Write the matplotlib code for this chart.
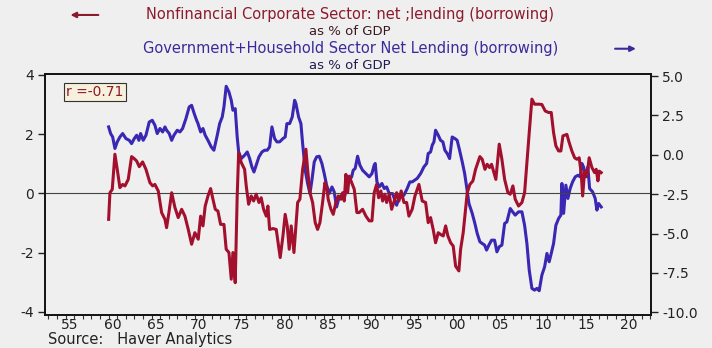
import numpy as np
import matplotlib.pyplot as plt

plt.rcParams['font.family'] = ['DejaVu Sans']
plt.rcParams['axes.unicode_minus'] = False

# Nonfinancial corporate sector net lending, % of GDP (left axis)
corp_years = [1960.0, 1960.15, 1960.42, 1960.73, 1961.0, 1961.31, 1961.63, 1961.9, 1962.28, 1962.67,
              1962.98, 1963.26, 1963.56, 1963.95, 1964.34, 1964.8, 1965.12, 1965.38, 1965.77, 1966.16,
              1966.55, 1966.74, 1967.01, 1967.33, 1967.71, 1968.09, 1968.49, 1968.87, 1969.26, 1969.65,
              1970.03, 1970.42, 1970.7, 1970.97, 1971.23, 1971.55, 1971.86, 1972.13, 1972.4, 1972.71,
              1973.02, 1973.41, 1973.67, 1973.99, 1974.26, 1974.45, 1974.72, 1974.95, 1975.12, 1975.42,
              1975.81, 1976.0, 1976.28, 1976.58, 1976.86, 1977.16, 1977.48, 1977.74, 1978.02, 1978.33,
              1978.52, 1978.72, 1979.1, 1979.49, 1979.95, 1980.27, 1980.53, 1980.77, 1981.0, 1981.23,
              1981.55, 1981.98, 1982.24, 1982.56, 1982.94, 1983.14, 1983.41, 1983.72, 1984.02, 1984.3,
              1984.57, 1984.88, 1985.15, 1985.38, 1985.53, 1985.85, 1986.12, 1986.43, 1986.7, 1987.01,
              1987.21, 1987.4, 1987.59, 1987.79, 1987.98, 1988.26, 1988.56, 1988.87, 1989.14, 1989.53,
              1989.92, 1990.3, 1990.62, 1990.88, 1991.16, 1991.4, 1991.66, 1991.86, 1992.13, 1992.33,
              1992.63, 1992.91, 1993.21, 1993.49, 1993.76, 1994.02, 1994.34, 1994.65, 1994.92, 1995.3,
              1995.62, 1996.08, 1996.47, 1996.86, 1997.16, 1997.44, 1997.74, 1998.02, 1998.33, 1998.6,
              1998.91, 1999.19, 1999.45, 1999.77, 2000.07, 2000.35, 2000.73, 2000.93, 2001.23, 2001.51,
              2001.7, 2002.01, 2002.36, 2002.67, 2003.17, 2003.44, 2003.76, 2004.02, 2004.3, 2004.53,
              2004.8, 2005.03, 2005.42, 2005.73, 2006.05, 2006.43, 2006.7, 2007.01, 2007.28, 2007.67,
              2008.06, 2008.37, 2008.64, 2008.91, 2009.22, 2009.53, 2010.0, 2010.38, 2010.77, 2011.16,
              2011.47, 2011.74, 2012.01, 2012.33, 2012.59, 2012.83, 2013.29, 2013.56, 2013.87, 2014.19,
              2014.45, 2014.72, 2014.95, 2015.12, 2015.35, 2015.62, 2015.88, 2016.2, 2016.51, 2016.7,
              2016.9, 2017.05, 2017.28]
corp_vals = [-0.88, 0.02, 0.13, 1.32, 0.81, 0.19, 0.30, 0.25, 0.47, 1.24,
             1.17, 1.09, 0.90, 1.06, 0.81, 0.36, 0.25, 0.30, 0.08, -0.65,
             -0.88, -1.16, -0.65, 0.02, -0.48, -0.82, -0.54, -0.77, -1.22, -1.72,
             -1.33, -1.55, -0.77, -1.10, -0.43, -0.09, 0.16, -0.20, -0.54, -0.60,
             -1.05, -1.05, -1.89, -2.00, -2.90, -2.00, -3.02, -0.09, 1.37, 1.04,
             0.81, 0.25, -0.37, -0.09, -0.26, -0.03, -0.31, -0.15, -0.54, -0.77,
             -0.43, -1.22, -1.19, -1.22, -2.17, -1.44, -0.71, -1.10, -1.89, -1.10,
             -2.00, -0.31, -0.20, 0.81, 1.49, 0.81, 0.02, -0.31, -0.99, -1.22,
             -0.99, -0.31, 0.36, 0.19, -0.20, -0.54, -0.71, -0.31, -0.09, -0.20,
             0.02, -0.26, 0.64, 0.02, 0.58, 0.36, 0.14, -0.65, -0.65, -0.54,
             -0.77, -0.93, -0.93, 0.02, 0.30, -0.15, 0.08, -0.26, -0.03, -0.31,
             -0.03, -0.54, -0.26, 0.02, -0.26, 0.08, -0.31, -0.31, -0.77, -0.54,
             -0.09, 0.30, -0.26, -0.31, -0.99, -0.82, -1.22, -1.67, -1.33, -1.39,
             -1.44, -1.10, -1.44, -1.67, -1.78, -2.46, -2.62, -1.89, -1.33, -0.54,
             0.02, 0.30, 0.42, 0.81, 1.24, 1.15, 0.81, 0.98, 0.87, 0.98,
             0.70, 0.47, 1.66, 1.15, 0.47, 0.02, -0.03, 0.25, -0.20, -0.43,
             -0.31, 0.02, 1.04, 2.05, 3.18, 3.01, 3.01, 3.00, 2.78, 2.73,
             2.73, 2.05, 1.60, 1.43, 1.43, 1.94, 1.99, 1.71, 1.43, 1.20,
             1.15, 1.20, 0.70, -0.09, 0.75, 0.58, 1.20, 0.87, 0.70, 0.81,
             0.42, 0.75, 0.70]

# Government + household sector net lending, % of GDP (right axis)
govhh_years = [1960.0, 1960.23, 1960.47, 1960.73, 1961.0, 1961.31, 1961.63, 1962.01, 1962.4, 1962.67,
               1962.98, 1963.26, 1963.52, 1963.72, 1964.02, 1964.34, 1964.72, 1965.07, 1965.38, 1965.65,
               1965.97, 1966.28, 1966.55, 1966.74, 1967.05, 1967.33, 1967.59, 1967.98, 1968.29, 1968.6,
               1968.99, 1969.37, 1969.65, 1969.95, 1970.23, 1970.38, 1970.7, 1970.97, 1971.23, 1971.55,
               1971.93, 1972.24, 1972.63, 1972.91, 1973.21, 1973.41, 1973.67, 1973.99, 1974.26, 1974.45,
               1974.72, 1974.95, 1975.12, 1975.42, 1975.81, 1976.12, 1976.4, 1976.66, 1976.9, 1977.16,
               1977.48, 1977.83, 1978.14, 1978.44, 1978.72, 1978.99, 1979.3, 1979.57, 1979.88, 1980.27,
               1980.53, 1980.73, 1981.05, 1981.35, 1981.63, 1981.78, 1982.09, 1982.36, 1982.56, 1982.86,
               1983.14, 1983.41, 1983.64, 1983.91, 1984.19, 1984.49, 1984.8, 1985.07, 1985.35, 1985.65,
               1985.97, 1986.23, 1986.51, 1986.81, 1987.13, 1987.4, 1987.67, 1987.98, 1988.26, 1988.44,
               1988.67, 1988.95, 1989.22, 1989.53, 1989.92, 1990.3, 1990.62, 1990.88, 1991.0, 1991.2,
               1991.47, 1991.78, 1992.05, 1992.33, 1992.63, 1993.02, 1993.3, 1993.49, 1993.76, 1994.02,
               1994.34, 1994.72, 1995.03, 1995.3, 1995.58, 1995.88, 1996.28, 1996.66, 1996.98, 1997.16,
               1997.44, 1997.63, 1997.83, 1998.02, 1998.33, 1998.6, 1998.87, 1999.1, 1999.37, 1999.65,
               1999.95, 2000.27, 2000.53, 2000.81, 2001.12, 2001.4, 2001.63, 2001.9, 2002.28, 2002.59,
               2002.86, 2003.17, 2003.44, 2003.72, 2003.95, 2004.22, 2004.53, 2004.88, 2005.15, 2005.42,
               2005.73, 2006.05, 2006.31, 2006.7, 2006.98, 2007.28, 2007.67, 2008.06, 2008.37, 2008.64,
               2008.91, 2009.22, 2009.53, 2009.8, 2010.07, 2010.38, 2010.7, 2010.97, 2011.23, 2011.47,
               2011.74, 2012.01, 2012.33, 2012.59, 2012.71, 2012.91, 2013.17, 2013.41, 2013.67, 2013.95,
               2014.26, 2014.57, 2014.84, 2015.03, 2015.23, 2015.5, 2015.73, 2015.93, 2016.28, 2016.58,
               2016.78, 2016.98, 2017.28]
govhh_vals = [1.77, 1.35, 1.13, 0.40, 0.82, 1.13, 1.35, 1.03, 0.92, 0.71,
              1.03, 1.24, 0.92, 1.35, 0.92, 1.24, 2.08, 2.19, 1.88, 1.35,
              1.67, 1.45, 1.77, 1.56, 1.35, 0.92, 1.24, 1.56, 1.45, 1.67,
              2.30, 3.04, 3.14, 2.62, 2.19, 2.00, 1.45, 1.67, 1.24, 0.92,
              0.50, 0.29, 1.24, 1.98, 2.40, 3.04, 4.35, 3.99, 3.46, 2.83,
              2.93, 1.13, 0.18, -0.24, -0.03, 0.18, -0.24, -0.77, -1.09, -0.66,
              -0.13, 0.18, 0.29, 0.29, 0.50, 1.77, 1.03, 0.82, 0.82, 1.03,
              1.13, 1.98, 1.98, 2.40, 3.46, 3.25, 2.40, 1.98, 0.71, -0.98,
              -1.82, -2.46, -1.61, -0.45, -0.13, -0.09, -0.55, -1.19, -1.93, -2.46,
              -2.04, -2.35, -3.31, -2.67, -2.56, -2.77, -2.04, -1.61, -1.40, -0.98,
              -0.87, -0.09, -0.66, -0.98, -1.19, -1.40, -1.19, -0.66, -0.55, -1.72,
              -2.04, -1.82, -2.14, -2.04, -2.46, -2.46, -2.90, -3.20, -2.77, -2.67,
              -2.56, -2.14, -1.72, -1.72, -1.61, -1.50, -1.19, -0.77, -0.55, 0.08,
              0.18, 0.61, 0.82, 1.56, 1.24, 0.92, 0.82, 0.29, 0.08, -0.24,
              1.13, 1.03, 0.92, 0.29, -0.45, -1.19, -2.04, -3.09, -3.72, -4.36,
              -4.99, -5.52, -5.63, -5.73, -6.05, -5.73, -5.42, -5.42, -6.16, -5.84,
              -5.73, -4.36, -4.26, -3.41, -3.62, -3.83, -3.62, -3.62, -4.47, -5.63,
              -7.32, -8.48, -8.59, -8.48, -8.63, -7.64, -7.11, -6.26, -6.79, -6.26,
              -5.63, -4.47, -4.04, -3.83, -1.82, -3.72, -1.93, -2.77, -2.14, -1.72,
              -1.40, -1.30, -1.40, -0.55, -0.77, -1.40, -0.77, -2.14, -2.35, -2.77,
              -3.51, -3.09, -3.31]

tick_years = np.arange(1955, 2021, 5)
tick_labels = [f"{y % 100:02d}" for y in tick_years]
right_ticks = [-10, -7.5, -5, -2.5, 0, 2.5, 5]

red = '#a3102e'
blue = '#3a27b3'
bg = '#efefef'
panel = '#fbf7c9'

fig = plt.figure(figsize=(7.12, 3.48), dpi=100, facecolor=bg)
ax = fig.add_axes([0.0632, 0.0948, 0.851, 0.6926])
ax2 = ax.twinx()

# red line should sit on top of the blue one
ax.set_zorder(ax2.get_zorder() + 1)
ax.patch.set_visible(False)
ax2.patch.set_facecolor(panel)

ax.axhline(0, color='#444444', lw=0.8, zorder=1)
ax2.plot(govhh_years, govhh_vals, color=blue, lw=2.2, solid_joinstyle='round')
ax.plot(corp_years, corp_vals, color=red, lw=2.2, solid_joinstyle='round', zorder=3)

ax.set_xlim(1952.6, 2023.06)
ax.set_ylim(-4.11, 4.03)
ax2.set_ylim(-10.17, 5.13)

# year labels sit in the middle of the year, small tick at each year boundary
ax.set_xticks(tick_years + 0.5)
ax.set_xticklabels(tick_labels)
ax.set_xticks(np.arange(1953, 2024), minor=True)
ax.tick_params(axis='x', which='major', length=0, pad=2, labelsize=10, colors='#222222')
ax.tick_params(axis='x', which='minor', length=3, width=0.8, direction='out', color='#333333')

ax.set_yticks([-4, -2, 0, 2, 4])
ax.tick_params(axis='y', length=5, width=1, direction='out', labelsize=10, colors='#222222', pad=3)
ax2.set_yticks(right_ticks)
ax2.set_yticklabels([f"{v:.1f}" for v in right_ticks])
ax2.tick_params(axis='y', length=5, width=1, direction='out', labelsize=10, colors='#222222', pad=3)

for a in (ax, ax2):
    for s in a.spines.values():
        s.set_color('#111111')
        s.set_linewidth(1.2)

ax.text(0.035, 0.955, "r =-0.71", transform=ax.transAxes, fontsize=10, color='#8a1a2c',
        va='top', ha='left',
        bbox=dict(boxstyle='square,pad=0.15', facecolor='#f7f0dc', edgecolor='#333333', lw=0.8))

# headings with direction arrows
fig.text(0.492, 0.957, "Nonfinancial Corporate Sector: net ;lending (borrowing)", ha='center', va='center',
         fontsize=10.5, color='#8c1a2c')
fig.text(0.492, 0.909, "as % of GDP", ha='center', va='center', fontsize=9.5, color='#3a1a20')
fig.text(0.492, 0.86, "Government+Household Sector Net Lending (borrowing)", ha='center', va='center',
         fontsize=10.5, color='#3a2a9a')
fig.text(0.492, 0.813, "as % of GDP", ha='center', va='center', fontsize=9.5, color='#1e1e50')
ax.annotate('', xy=(0.095, 0.957), xytext=(0.142, 0.957), xycoords='figure fraction',
            arrowprops=dict(arrowstyle='-|>', color='#8c1a2c', lw=1.5, mutation_scale=8))
ax.annotate('', xy=(0.897, 0.86), xytext=(0.86, 0.86), xycoords='figure fraction',
            arrowprops=dict(arrowstyle='-|>', color='#3a2a9a', lw=1.5, mutation_scale=8))

fig.text(0.068, 0.004, "Source:   Haver Analytics", ha='left', va='bottom', fontsize=10.5, color='#222222')

fig.savefig('out.png', dpi=100, facecolor=bg)
